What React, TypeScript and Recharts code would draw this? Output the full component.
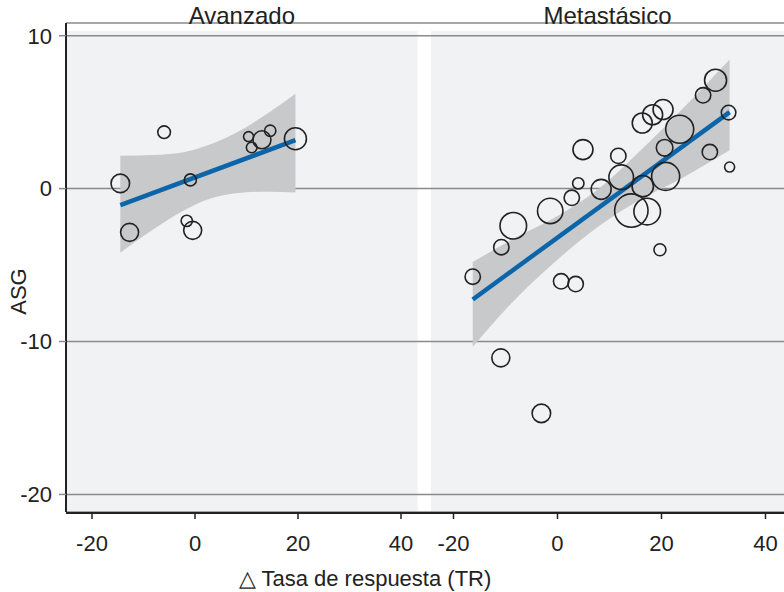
import React from 'react';
import {
  ComposedChart,
  Scatter,
  Line,
  Area,
  XAxis,
  YAxis,
  ZAxis,
  CartesianGrid,
  ReferenceArea,
} from 'recharts';

const FONT = '"Liberation Sans", Arial, Helvetica, sans-serif';
const INK = '#222222';

const panelNames = ['Avanzado', 'Metastásico'];
const xTicks = [-20, 0, 20, 40];
const yTicks = [-20, -10, 0, 10];

// Avanzado: points (size = bubble weight)
const avX = [-14.5, -6.0, -0.9, -12.7, -1.6, -0.45, 10.4, 11.0, 13.0, 14.6, 19.5];
const avY = [0.34, 3.69, 0.57, -2.86, -2.11, -2.73, 3.4, 2.69, 3.19, 3.78, 3.26];
const avSize = [86, 40, 36, 81, 32, 81, 25, 28, 81, 32, 121];

// Avanzado: fitted line and confidence band
const avFitX = [-14.5, 19.5];
const avFitY = [-1.08, 3.17];
const avBandX = [-14.5, -8, -2, 3, 8, 14, 19.5];
const avBandLo = [-4.2, -2.65, -1.4, -0.65, -0.3, -0.2, -0.25];
const avBandHi = [2.15, 2.2, 2.4, 2.9, 3.65, 4.9, 6.2];

// Metastásico: points
const meX = [
  -16.3, -10.8, -8.5, -1.4, 2.75, 4.0, 4.9, 8.4, 11.7, 12.25, 14.2, 16.4, 17.25, 16.3, 18.3,
  20.3, 23.5, 20.6, 20.8, 19.7, 29.3, 33.1, 32.9, 28.0, 30.4, 0.7, 3.5, -10.9, -3.1,
];
const meY = [
  -5.76, -3.83, -2.43, -1.46, -0.6, 0.34, 2.55, -0.05, 2.14, 0.75, -1.44, 0.16, -1.5, 4.29, 4.83,
  5.17, 3.88, 2.67, 0.8, -4.0, 2.39, 1.41, 4.97, 6.1, 7.09, -6.06, -6.24, -11.07, -14.7,
];
const meSize = [
  59, 59, 177, 161, 59, 32, 100, 100, 59, 151, 279, 114, 177, 100, 100,
  100, 196, 69, 196, 36, 59, 25, 53, 59, 121, 59, 59, 81, 86,
];

// Metastásico: fitted line and confidence band
const meFitX = [-16.3, 33.1];
const meFitY = [-7.25, 5.0];
const meBandX = [-16.3, -8, 0, 8, 16, 24, 33.1];
const meBandLo = [-10.35, -7.2, -4.65, -2.45, -0.7, 0.7, 2.5];
const meBandHi = [-4.8, -3.2, -1.8, 0.0, 2.5, 5.2, 8.45];

const points = (xs: number[], ys: number[], zs: number[]) =>
  xs.map((x, i) => ({ x, y: ys[i], z: zs[i] }));
const fit = (xs: number[], ys: number[]) => xs.map((x, i) => ({ x, y: ys[i] }));
const band = (xs: number[], lo: number[], hi: number[]) =>
  xs.map((x, i) => ({ x, band: [lo[i], hi[i]] }));

const avPoints = points(avX, avY, avSize);
const mePoints = points(meX, meY, meSize);
const avFit = fit(avFitX, avFitY);
const meFit = fit(meFitX, meFitY);
const avBand = band(avBandX, avBandLo, avBandHi);
const meBand = band(meBandX, meBandLo, meBandHi);

// each facet gets its own x axis over the shared plot width
const domainA: [number, number] = [-25.05, 114.37];
const domainB: [number, number] = [-94.52, 43.56];
const domainY: [number, number] = [-21.15, 10.83];
const panelTop = 10.31;

const XTitle = (props: any) => {
  const { viewBox } = props;
  return (
    <text
      x={viewBox.x + viewBox.width / 2 - 60}
      y={viewBox.y + viewBox.height - 6}
      textAnchor="middle"
      fontSize={22}
      fill={INK}
      fontFamily={FONT}
    >
      △ Tasa de respuesta (TR)
    </text>
  );
};

const YTitle = (props: any) => {
  const { viewBox } = props;
  const cx = viewBox.x + 18;
  const cy = viewBox.y + viewBox.height / 2 + 24;
  return (
    <text
      x={cx}
      y={cy}
      transform={`rotate(-90, ${cx}, ${cy})`}
      textAnchor="middle"
      dominantBaseline="central"
      fontSize={22}
      fill={INK}
      fontFamily={FONT}
    >
      ASG
    </text>
  );
};

const tickStyle = { fontSize: 22, fill: INK, fontFamily: FONT };

export default function App() {
  return (
    <div
      style={{
        position: 'absolute',
        left: 0,
        top: 0,
        width: 784,
        height: 592,
        background: '#ffffff',
        fontFamily: FONT,
      }}
    >
      <ComposedChart width={784} height={592} margin={{ top: 23, right: 0, bottom: 0, left: 0 }}>
        <XAxis
          xAxisId="a"
          type="number"
          dataKey="x"
          domain={domainA}
          allowDataOverflow
          ticks={xTicks}
          interval={0}
          height={1}
          axisLine={false}
          tickLine={{ stroke: INK, strokeWidth: 1.5 }}
          tickSize={7}
          tickMargin={16}
          tick={tickStyle}
        />
        <XAxis
          xAxisId="b"
          type="number"
          dataKey="x"
          domain={domainB}
          allowDataOverflow
          ticks={xTicks}
          interval={0}
          height={79}
          axisLine={{ stroke: INK, strokeWidth: 2 }}
          tickLine={{ stroke: INK, strokeWidth: 1.5 }}
          tickSize={6}
          tickMargin={16}
          tick={tickStyle}
          label={{ content: XTitle }}
        />
        <YAxis
          type="number"
          dataKey="y"
          domain={domainY}
          allowDataOverflow
          ticks={yTicks}
          width={66}
          axisLine={{ stroke: INK, strokeWidth: 2 }}
          tickLine={{ stroke: '#8a8a8a', strokeWidth: 1.5 }}
          tickSize={7}
          tickMargin={7}
          tick={tickStyle}
          label={{ content: YTitle }}
        />
        <ZAxis type="number" dataKey="z" domain={[0, 300]} range={[0, 300 * Math.PI]} />

        <ReferenceArea
          xAxisId="a"
          x1={domainA[0]}
          x2={43.24}
          y1={domainY[0]}
          y2={panelTop}
          fill="#f1f2f4"
          fillOpacity={1}
          stroke="none"
          zIndex={-200}
          label={{ value: panelNames[0], position: 'top', offset: 7, fontSize: 24, fill: INK, fontFamily: FONT }}
        />
        <ReferenceArea
          xAxisId="b"
          x1={-24.33}
          x2={domainB[1]}
          y1={domainY[0]}
          y2={panelTop}
          fill="#f1f2f4"
          fillOpacity={1}
          stroke="none"
          zIndex={-200}
          label={{ value: panelNames[1], position: 'top', offset: 7, fontSize: 24, fill: INK, fontFamily: FONT }}
        />
        <CartesianGrid xAxisId="a" vertical={false} stroke="#8a8a8a" strokeWidth={1.5} />

        <Area
          xAxisId="a"
          data={avBand}
          dataKey="band"
          type="monotone"
          fill="#c8c9cb"
          fillOpacity={1}
          stroke="none"
          isAnimationActive={false}
        />
        <Area
          xAxisId="b"
          data={meBand}
          dataKey="band"
          type="monotone"
          fill="#c8c9cb"
          fillOpacity={1}
          stroke="none"
          isAnimationActive={false}
        />
        <Line
          xAxisId="a"
          data={avFit}
          dataKey="y"
          type="linear"
          stroke="#0b65a8"
          strokeWidth={4.5}
          dot={false}
          activeDot={false}
          isAnimationActive={false}
        />
        <Line
          xAxisId="b"
          data={meFit}
          dataKey="y"
          type="linear"
          stroke="#0b65a8"
          strokeWidth={4.5}
          dot={false}
          activeDot={false}
          isAnimationActive={false}
        />
        <Scatter
          xAxisId="a"
          data={avPoints}
          dataKey="y"
          shape="circle"
          fill="none"
          stroke={INK}
          strokeWidth={1.6}
          isAnimationActive={false}
        />
        <Scatter
          xAxisId="b"
          data={mePoints}
          dataKey="y"
          shape="circle"
          fill="none"
          stroke={INK}
          strokeWidth={1.6}
          isAnimationActive={false}
        />
      </ComposedChart>
    </div>
  );
}
